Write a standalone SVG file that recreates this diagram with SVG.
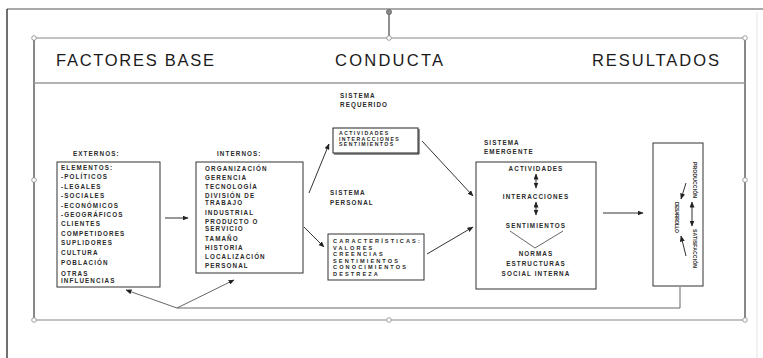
<svg xmlns="http://www.w3.org/2000/svg" width="763" height="358" viewBox="0 0 763 358">
<style>
.hdr{font-family:"Liberation Sans",Arial,sans-serif;font-size:16.5px;fill:#1a1a1a;}
.t{font-family:"Liberation Sans",Arial,sans-serif;font-size:6.3px;font-weight:bold;fill:#2a2a2a;letter-spacing:1.1px;}
.ts{font-family:"Liberation Sans",Arial,sans-serif;font-size:5.2px;font-weight:bold;fill:#2a2a2a;letter-spacing:1.4px;}
.tm{font-family:"Liberation Sans",Arial,sans-serif;font-size:5.6px;font-weight:bold;fill:#2a2a2a;letter-spacing:2.1px;}
.tc{font-family:"Liberation Sans",Arial,sans-serif;font-size:6.3px;font-weight:bold;fill:#2a2a2a;letter-spacing:1.1px;text-anchor:middle;}
.tv{font-family:"Liberation Sans",Arial,sans-serif;font-size:5.2px;font-weight:bold;fill:#2a2a2a;}
.box{fill:#fff;stroke:#333;stroke-width:1;}
.ln{fill:none;stroke:#333;stroke-width:1;}
.lg{fill:none;stroke:#666;stroke-width:1;}
.h{fill:#fff;stroke:#888;stroke-width:0.8;}
</style>
<defs>
<marker id="ah" markerUnits="userSpaceOnUse" markerWidth="6" markerHeight="5" refX="5.5" refY="2.5" orient="auto-start-reverse">
<path d="M0,0 L6,2.5 L0,5 z" fill="#222"/>
</marker>
</defs>
<rect width="763" height="358" fill="#fff"/>
<g id="page">
<line x1="7" y1="9" x2="763" y2="9" stroke="#555" stroke-width="1.2"/>
<line x1="7" y1="9" x2="7" y2="358" stroke="#111" stroke-width="1.2"/>
<line x1="757" y1="12" x2="757" y2="358" stroke="#e4e4e4" stroke-width="1"/>
</g>
<g id="frame">
<line x1="34" y1="38" x2="745" y2="38" stroke="#888" stroke-width="1.2"/>
<line x1="34" y1="320" x2="745" y2="320" stroke="#888" stroke-width="1.2"/>
<line x1="34" y1="38" x2="34" y2="320" stroke="#111" stroke-width="1"/>
<line x1="745" y1="38" x2="745" y2="320" stroke="#111" stroke-width="1"/>
<line x1="34" y1="83" x2="745" y2="83" stroke="#999" stroke-width="1.3"/>
<line x1="389" y1="14" x2="389" y2="36" stroke="#222" stroke-width="1"/>
<circle cx="389" cy="12" r="2.6" fill="#888" stroke="#555" stroke-width="0.6"/>
<circle class="h" cx="34" cy="38" r="2.3"/>
<circle class="h" cx="389" cy="38" r="2.3"/>
<circle class="h" cx="745" cy="38" r="2.3"/>
<circle class="h" cx="34" cy="180" r="2.3"/>
<circle class="h" cx="745" cy="180" r="2.3"/>
<circle class="h" cx="34" cy="320" r="2.3"/>
<circle class="h" cx="389" cy="320" r="2.3"/>
<circle class="h" cx="745" cy="320" r="2.3"/>
</g>
<g id="header-factores"><text class="hdr" x="56" y="66" textLength="158" lengthAdjust="spacing">FACTORES BASE</text></g>
<g id="header-conducta"><text class="hdr" x="335" y="66" textLength="108" lengthAdjust="spacing">CONDUCTA</text></g>
<g id="header-resultados"><text class="hdr" x="592" y="66" textLength="127" lengthAdjust="spacing">RESULTADOS</text></g>

<g id="externos">
<text class="t" x="73" y="156">EXTERNOS:</text>
<rect class="box" x="57" y="162" width="103" height="125"/>
<text class="t" x="61" y="170">ELEMENTOS:</text>
<text class="t" x="61" y="179">-POLÍTICOS</text>
<text class="t" x="61" y="188.5">-LEGALES</text>
<text class="t" x="61" y="198">-SOCIALES</text>
<text class="t" x="61" y="207.5">-ECONÓMICOS</text>
<text class="t" x="61" y="217">-GEOGRÁFICOS</text>
<text class="t" x="61" y="226">CLIENTES</text>
<text class="t" x="61" y="235.5">COMPETIDORES</text>
<text class="t" x="61" y="245">SUPLIDORES</text>
<text class="t" x="61" y="254.5">CULTURA</text>
<text class="t" x="61" y="265">POBLACIÓN</text>
<text class="t" x="61" y="275.5">OTRAS</text>
<text class="t" x="61" y="282.5">INFLUENCIAS</text>
</g>

<g id="internos">
<text class="t" x="217" y="156">INTERNOS:</text>
<rect class="box" x="196" y="162" width="107" height="111"/>
<text class="t" x="205" y="170.5">ORGANIZACIÓN</text>
<text class="t" x="205" y="179.5">GERENCIA</text>
<text class="t" x="205" y="188.5">TECNOLOGÍA</text>
<text class="t" x="205" y="198">DIVISIÓN DE</text>
<text class="t" x="205" y="204.5">TRABAJO</text>
<text class="t" x="205" y="214.5">INDUSTRIAL</text>
<text class="t" x="205" y="224">PRODUCTO O</text>
<text class="t" x="205" y="230.5">SERVICIO</text>
<text class="t" x="205" y="241">TAMAÑO</text>
<text class="t" x="205" y="250">HISTORIA</text>
<text class="t" x="205" y="259">LOCALIZACIÓN</text>
<text class="t" x="205" y="268">PERSONAL</text>
</g>

<g id="sistema-requerido">
<text class="t" x="340" y="98">SISTEMA</text>
<text class="t" x="340" y="107">REQUERIDO</text>
</g>

<g id="actividades-box">
<rect x="333" y="128" width="85" height="25" fill="none" stroke="#222" stroke-width="1"/>
<line x1="419" y1="129" x2="419" y2="154" stroke="#222" stroke-width="1"/>
<line x1="334" y1="154" x2="419" y2="154" stroke="#222" stroke-width="1"/>
<text class="ts" x="339" y="135">ACTIVIDADES</text>
<text class="ts" x="339" y="140.5">INTERACCIONES</text>
<text class="ts" x="339" y="146">SENTIMIENTOS</text>
</g>

<g id="sistema-personal">
<text class="t" x="330" y="195">SISTEMA</text>
<text class="t" x="330" y="205">PERSONAL</text>
</g>

<g id="caracteristicas-box">
<rect class="box" x="328" y="234" width="96" height="46"/>
<text class="tm" x="333" y="243">CARACTERÍSTICAS:</text>
<text class="tm" x="333" y="249.5">VALORES</text>
<text class="tm" x="333" y="256">CREENCIAS</text>
<text class="tm" x="333" y="262.5">SENTIMIENTOS</text>
<text class="tm" x="333" y="269">CONOCIMIENTOS</text>
<text class="tm" x="333" y="275.5">DESTREZA</text>
</g>

<g id="sistema-emergente">
<text class="t" x="484" y="145">SISTEMA</text>
<text class="t" x="484" y="154">EMERGENTE</text>
<rect class="box" x="476" y="162" width="120" height="127"/>
<text class="tc" x="536" y="171">ACTIVIDADES</text>
<line class="ln" x1="536" y1="174" x2="536" y2="188" marker-start="url(#ah)" marker-end="url(#ah)"/>
<text class="tc" x="536" y="199">INTERACCIONES</text>
<line class="ln" x1="536" y1="202" x2="536" y2="215" marker-start="url(#ah)" marker-end="url(#ah)"/>
<text class="tc" x="536" y="228">SENTIMIENTOS</text>
<polyline class="lg" points="510,231 535,248 563,231"/>
<text class="tc" x="536" y="256">NORMAS</text>
<text class="tc" x="536" y="265.5">ESTRUCTURAS</text>
<text class="tc" x="536" y="275.5">SOCIAL INTERNA</text>
</g>

<g id="resultados-box">
<rect class="box" x="653" y="143" width="50" height="143"/>
<text class="tv" transform="translate(693,162) rotate(90)" textLength="36" lengthAdjust="spacing">PRODUCCIÓN</text>
<text class="tv" transform="translate(693,229) rotate(90)" textLength="39" lengthAdjust="spacing">SATISFACCIÓN</text>
<text class="tv" transform="translate(675,202) rotate(90)" textLength="31" lengthAdjust="spacing">DESARROLLO</text>
<line class="ln" x1="692" y1="202" x2="692" y2="226" marker-start="url(#ah)" marker-end="url(#ah)"/>
<line class="ln" x1="686" y1="183" x2="681" y2="199" marker-end="url(#ah)"/>
<line class="ln" x1="686" y1="256" x2="681" y2="236" marker-end="url(#ah)"/>
</g>

<g id="connectors">
<line class="ln" x1="165" y1="218" x2="188" y2="218" marker-end="url(#ah)"/>
<line class="ln" x1="309" y1="193" x2="329" y2="144" marker-end="url(#ah)"/>
<line class="ln" x1="304" y1="227" x2="324" y2="247" marker-end="url(#ah)"/>
<line class="ln" x1="422" y1="141" x2="473" y2="196" marker-end="url(#ah)"/>
<line class="ln" x1="427" y1="254" x2="473" y2="227" marker-end="url(#ah)"/>
<line class="ln" x1="603" y1="213" x2="643" y2="213" marker-end="url(#ah)"/>
<polyline class="lg" points="680,287 680,308 177,308"/>
<line class="lg" x1="177" y1="308" x2="126" y2="290" marker-end="url(#ah)"/>
<line class="lg" x1="177" y1="308" x2="234" y2="280" marker-end="url(#ah)"/>
</g>
</svg>
